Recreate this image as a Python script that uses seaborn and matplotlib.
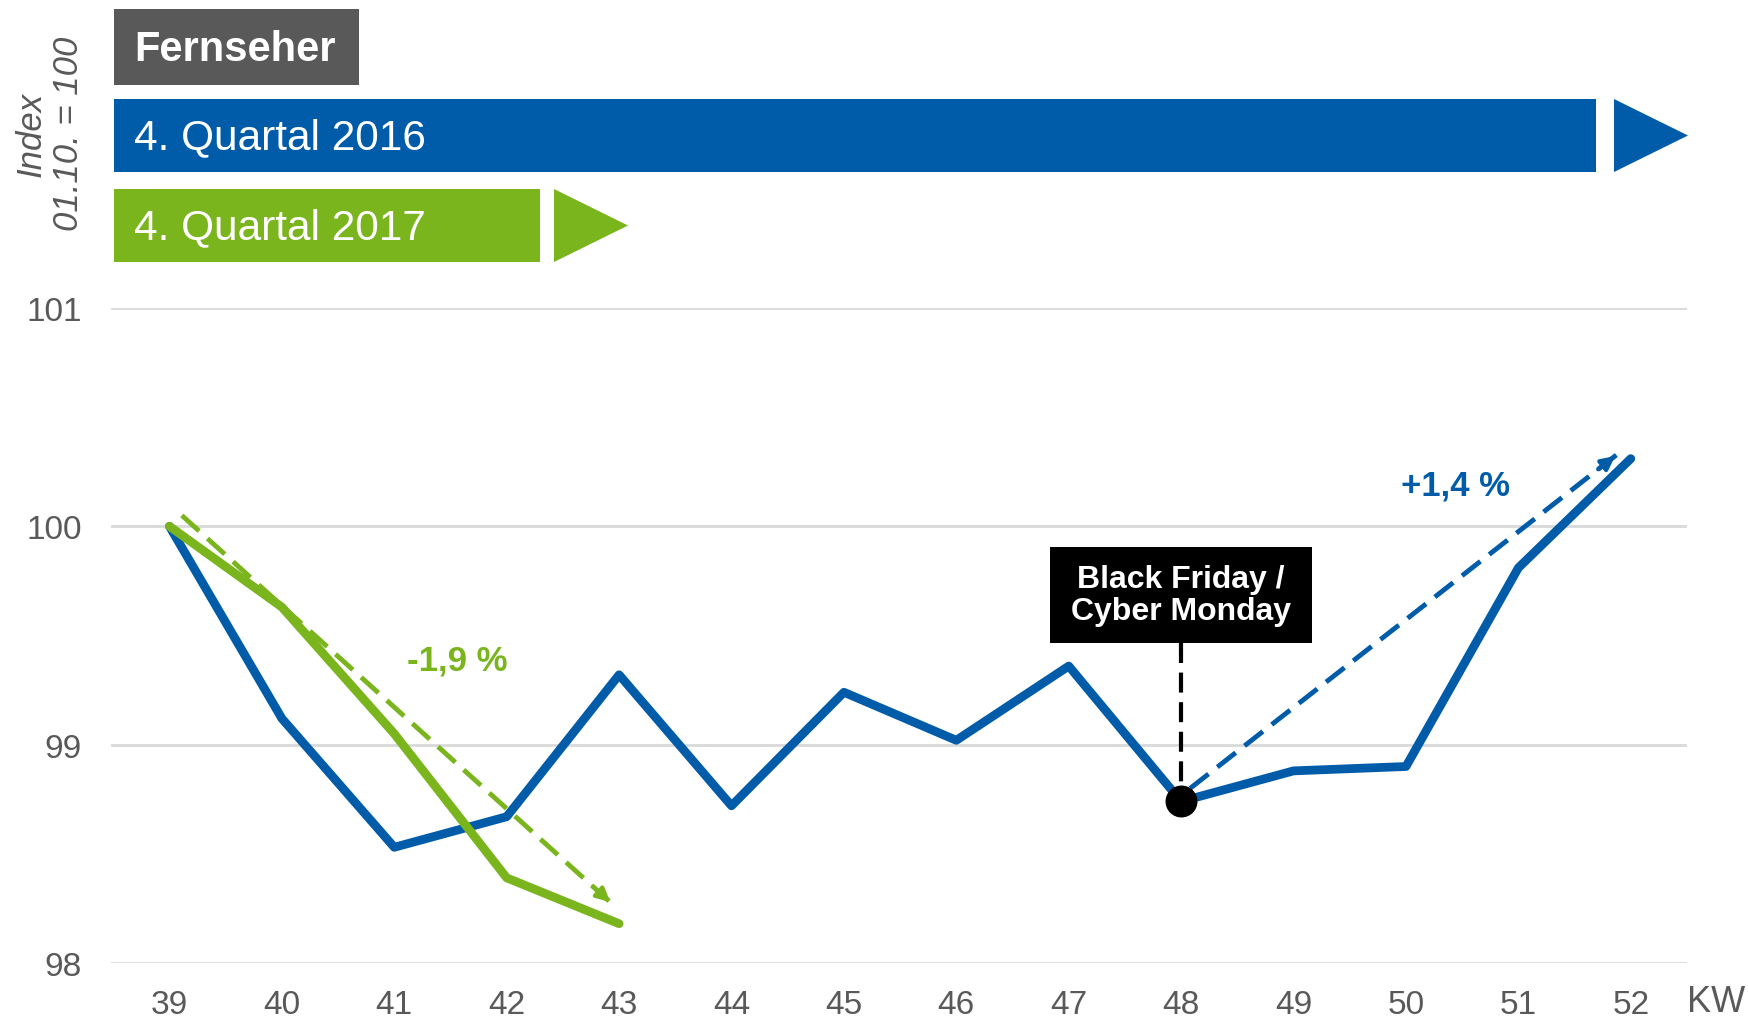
import numpy as np
import pandas as pd
import matplotlib
matplotlib.use("Agg")
import matplotlib.pyplot as plt
from matplotlib.patches import Rectangle, Polygon
import seaborn as sns

# --- data ---
weeks = list(range(39, 53))
q4_2016 = [100.0, 99.12, 98.53, 98.67, 99.32, 98.72, 99.24, 99.02, 99.36, 98.74, 98.88, 98.90, 99.81, 100.31]
weeks_2017 = [39, 40, 41, 42, 43]
q4_2017 = [100.0, 99.63, 99.05, 98.39, 98.18]
y_ticks = [98, 99, 100, 101]

trend_2017 = ([39.11, 42.94], [100.05, 98.27])
trend_2016 = ([48.08, 51.88], [98.80, 100.33])
event_week = 48
event_value = 98.74

BLUE = "#005CA9"
GREEN = "#7AB51D"
GREY = "#595959"

sns.set_style("white")
plt.rcParams["font.family"] = ["Liberation Sans", "DejaVu Sans"]

W, H = 1748, 1020
fig = plt.figure(figsize=(W / 100, H / 100), dpi=100)


def fx(px):
    return px / W


def fy(py):
    return 1 - py / H


ax = fig.add_axes([fx(111), fy(964), fx(1687) - fx(111), fy(309) - fy(964)])

df16 = pd.DataFrame({"KW": weeks, "Index": q4_2016})
df17 = pd.DataFrame({"KW": weeks_2017, "Index": q4_2017})
sns.lineplot(data=df16, x="KW", y="Index", color=BLUE, linewidth=6.3, ax=ax, zorder=3)
sns.lineplot(data=df17, x="KW", y="Index", color=GREEN, linewidth=6.3, ax=ax, zorder=4)

# trend arrows
for (xs, ys), col in [(trend_2017, GREEN), (trend_2016, BLUE)]:
    ax.plot(xs, ys, color=col, linewidth=3.5, linestyle=(0, (4.8, 2.3)), zorder=2)
    dx = xs[1] - xs[0]
    dy = ys[1] - ys[0]
    ax.annotate("", xy=(xs[1], ys[1]), xytext=(xs[1] - dx * 0.05, ys[1] - dy * 0.05),
                arrowprops=dict(arrowstyle="-|>,head_length=0.8,head_width=0.4",
                                color=col, lw=3), zorder=2)

ax.text(41.56, 99.39, "-1,9 %", color=GREEN, fontsize=25, fontweight="bold",
        ha="center", va="center")
ax.text(50.44, 100.19, "+1,4 %", color=BLUE, fontsize=25, fontweight="bold",
        ha="center", va="center")

# Black Friday marker
ax.plot([event_week, event_week], [99.466, event_value], color="black",
        linewidth=3, linestyle=(0, (4.8, 2.3)), zorder=5)
ax.plot([event_week], [event_value], marker="o", markersize=22, color="black", zorder=6)
ax.add_patch(Rectangle((46.835, 99.466), 2.33, 0.439, facecolor="black",
                       edgecolor="none", zorder=5))
ax.text(event_week, 99.685, "Black Friday /\nCyber Monday", color="white",
        fontsize=23, fontweight="bold", ha="center", va="center",
        linespacing=1.1, zorder=7)

ax.set_xlim(38.48, 52.5)
ax.set_ylim(98, 101)
ax.set_xticks(weeks)
ax.set_yticks(y_ticks)
ax.set_xlabel("")
ax.set_ylabel("")
ax.grid(axis="y", color="#D9D9D9", linewidth=2)
ax.grid(axis="x", visible=False)
for s in ax.spines.values():
    s.set_visible(False)
ax.tick_params(axis="both", length=0, labelsize=24, labelcolor=GREY)
ax.tick_params(axis="x", pad=19)
ax.tick_params(axis="y", pad=21)
ax.set_axisbelow(True)

fig.text(fx(1716), fy(1003), "KW", fontsize=26, color=GREY, ha="center", va="center")

# y label
fig.text(fx(31), fy(134), "Index", fontsize=25, color=GREY, style="italic",
         rotation=90, ha="center", va="center")
fig.text(fx(68), fy(134), "01.10. = 100", fontsize=25, color=GREY, style="italic",
         rotation=90, ha="center", va="center")

# header bars
def bar(x0, x1, y0, y1, color):
    fig.patches.append(Rectangle((fx(x0), fy(y1)), fx(x1) - fx(x0), fy(y0) - fy(y1),
                                 transform=fig.transFigure, facecolor=color,
                                 edgecolor="none"))


def tri(x0, x1, y0, y1, color):
    pts = [(fx(x0), fy(y0)), (fx(x1), fy((y0 + y1) / 2)), (fx(x0), fy(y1))]
    fig.patches.append(Polygon(pts, closed=True, transform=fig.transFigure,
                               facecolor=color, edgecolor="none"))


bar(114, 359, 10, 86, GREY)
bar(114, 1596, 100, 173, BLUE)
tri(1614, 1688, 100, 173, BLUE)
bar(114, 540, 190, 263, GREEN)
tri(554, 628, 190, 263, GREEN)

fig.text(fx(134), fy(50), "Fernseher", fontsize=30, fontweight="bold", color="white",
         ha="left", va="center")
fig.text(fx(134), fy(138), "4. Quartal 2016", fontsize=30.5, color="white",
         ha="left", va="center")
fig.text(fx(134), fy(228), "4. Quartal 2017", fontsize=30.5, color="white",
         ha="left", va="center")

fig.savefig("out.png", dpi=100)
